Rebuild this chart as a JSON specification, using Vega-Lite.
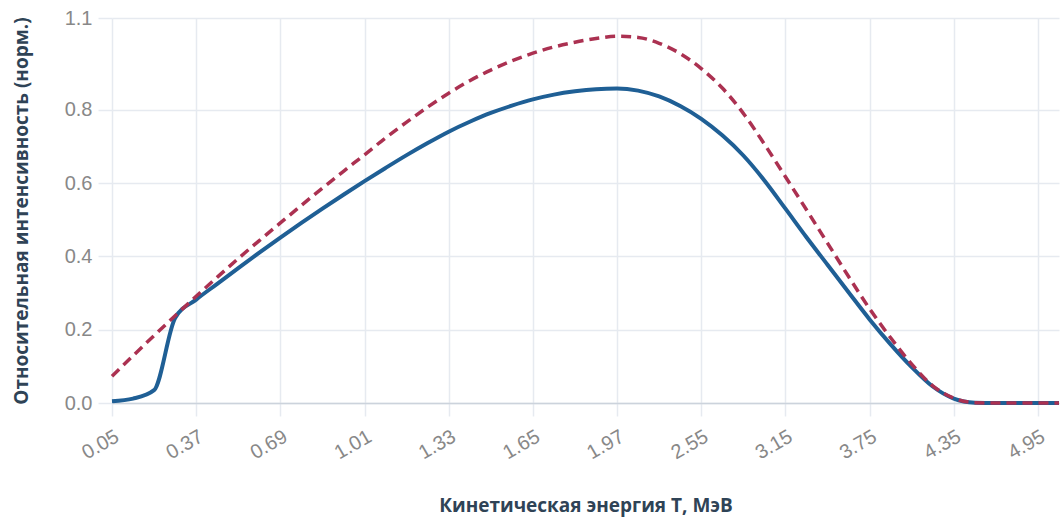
{
  "$schema": "https://vega.github.io/schema/vega-lite/v6.json",
  "width": 947,
  "height": 385,
  "autosize": {"type": "none"},
  "padding": {"left": 112, "top": 18, "right": 4, "bottom": 117},
  "background": "#ffffff",
  "config": {
    "view": {"stroke": null},
    "axis": {
      "labelFont": "Liberation Sans",
      "labelFontSize": 20,
      "labelColor": "#888888",
      "titleFont": "Open Sans",
      "titleFontWeight": "bold",
      "titleFontSize": 19,
      "titleColor": "#2f4356",
      "gridColor": "#e6eaf0",
      "gridWidth": 1.5,
      "tickColor": "#e6eaf0",
      "tickWidth": 1.5
    }
  },
  "data": {
    "values": [
      {"T": 0.05, "measured": 0.005, "theory": 0.073},
      {"T": 0.13, "measured": 0.012, "theory": 0.129},
      {"T": 0.21, "measured": 0.035, "theory": 0.184},
      {"T": 0.29, "measured": 0.232, "theory": 0.238},
      {"T": 0.37, "measured": 0.282, "theory": 0.291},
      {"T": 0.45, "measured": 0.325, "theory": 0.343},
      {"T": 0.53, "measured": 0.368, "theory": 0.394},
      {"T": 0.61, "measured": 0.410, "theory": 0.443},
      {"T": 0.69, "measured": 0.451, "theory": 0.491},
      {"T": 0.77, "measured": 0.491, "theory": 0.539},
      {"T": 0.85, "measured": 0.530, "theory": 0.586},
      {"T": 0.93, "measured": 0.568, "theory": 0.632},
      {"T": 1.01, "measured": 0.605, "theory": 0.677},
      {"T": 1.09, "measured": 0.641, "theory": 0.723},
      {"T": 1.17, "measured": 0.676, "theory": 0.766},
      {"T": 1.25, "measured": 0.709, "theory": 0.807},
      {"T": 1.33, "measured": 0.740, "theory": 0.845},
      {"T": 1.41, "measured": 0.767, "theory": 0.879},
      {"T": 1.49, "measured": 0.791, "theory": 0.908},
      {"T": 1.57, "measured": 0.811, "theory": 0.933},
      {"T": 1.65, "measured": 0.828, "theory": 0.954},
      {"T": 1.73, "measured": 0.841, "theory": 0.971},
      {"T": 1.81, "measured": 0.850, "theory": 0.984},
      {"T": 1.89, "measured": 0.856, "theory": 0.994},
      {"T": 1.97, "measured": 0.858, "theory": 1.000},
      {"T": 2.10, "measured": 0.852, "theory": 0.997},
      {"T": 2.25, "measured": 0.836, "theory": 0.981},
      {"T": 2.40, "measured": 0.810, "theory": 0.953},
      {"T": 2.55, "measured": 0.775, "theory": 0.912},
      {"T": 2.70, "measured": 0.730, "theory": 0.859},
      {"T": 2.85, "measured": 0.675, "theory": 0.790},
      {"T": 3.00, "measured": 0.607, "theory": 0.706},
      {"T": 3.15, "measured": 0.530, "theory": 0.617},
      {"T": 3.30, "measured": 0.452, "theory": 0.527},
      {"T": 3.45, "measured": 0.377, "theory": 0.436},
      {"T": 3.60, "measured": 0.302, "theory": 0.345},
      {"T": 3.75, "measured": 0.228, "theory": 0.257},
      {"T": 3.90, "measured": 0.160, "theory": 0.178},
      {"T": 4.05, "measured": 0.098, "theory": 0.106},
      {"T": 4.20, "measured": 0.045, "theory": 0.047},
      {"T": 4.35, "measured": 0.012, "theory": 0.013},
      {"T": 4.50, "measured": 0.001, "theory": 0.001},
      {"T": 4.65, "measured": 0.0, "theory": 0.0},
      {"T": 4.80, "measured": 0.0, "theory": 0.0},
      {"T": 4.95, "measured": 0.0, "theory": 0.0},
      {"T": 5.10, "measured": 0.0, "theory": 0.0}
    ]
  },
  "encoding": {
    "x": {
      "field": "T",
      "type": "ordinal",
      "scale": {"type": "point", "padding": 0},
      "axis": {
        "title": "Кинетическая энергия T, МэВ",
        "values": [0.05, 0.37, 0.69, 1.01, 1.33, 1.65, 1.97, 2.55, 3.15, 3.75, 4.35, 4.95],
        "labelAngle": -30,
        "labelPadding": 10,
        "tickSize": 13,
        "grid": true,
        "domainColor": "#ccd3dc",
        "domainWidth": 1.5,
        "titlePadding": 34
      }
    }
  },
  "layer": [
    {
      "mark": {"type": "line", "interpolate": "monotone", "color": "#1f5f95", "strokeWidth": 4},
      "encoding": {
        "y": {
          "field": "measured",
          "type": "quantitative",
          "scale": {"domain": [0, 1.05], "nice": false},
          "axis": {
            "title": "Относительная интенсивность (норм.)",
            "values": [0, 0.2, 0.4, 0.6, 0.8, 1.05],
            "format": ".1f",
            "domain": false,
            "tickSize": 14,
            "labelPadding": 6,
            "titlePadding": 33
          }
        }
      }
    },
    {
      "mark": {"type": "line", "interpolate": "monotone", "color": "#ab3151", "strokeWidth": 3.5, "strokeDash": [10, 6]},
      "encoding": {
        "y": {"field": "theory", "type": "quantitative"}
      }
    }
  ]
}
